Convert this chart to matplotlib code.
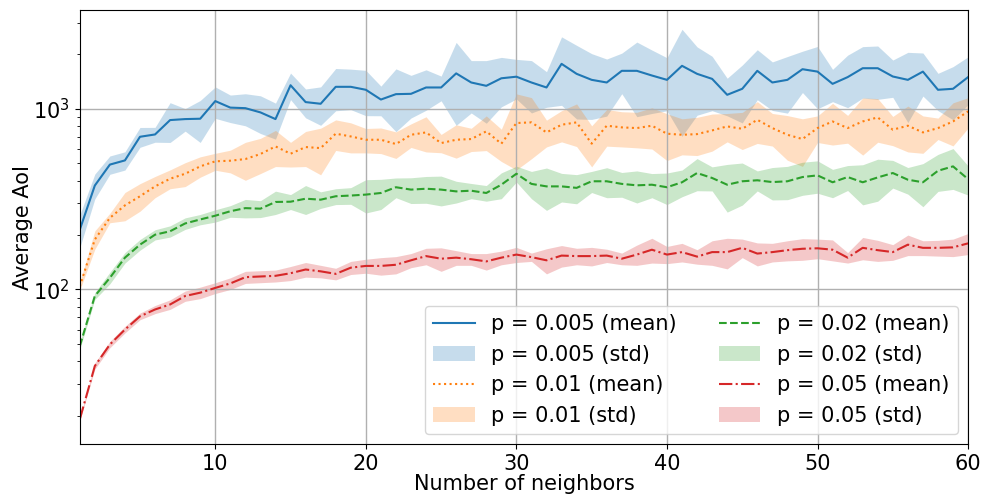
import numpy as np
import matplotlib.pyplot as plt

## Average AoI vs number of neighbors, mean +/- std for four values of p

neighbors = np.arange(1, 61)

mean_p005 = [214, 376, 491, 518, 700, 721, 866, 877, 881, 1103,
             1015, 1008, 955, 877, 1350, 1089, 1066, 1323, 1323, 1274,
             1125, 1205, 1210, 1312, 1312, 1570, 1398, 1340, 1475, 1505,
             1398, 1312, 1773, 1561, 1446, 1398, 1622, 1622, 1528, 1446,
             1729, 1561, 1464, 1195, 1290, 1622, 1398, 1446, 1656, 1606,
             1374, 1497, 1677, 1677, 1509, 1446, 1606, 1274, 1290, 1497]
std_p005 = [44, 59, 57, 60, 88, 68, 215, 125, 230, 218,
            176, 203, 225, 198, 226, 198, 256, 348, 334, 358,
            210, 458, 321, 331, 205, 760, 450, 508, 450, 372,
            450, 293, 728, 683, 573, 487, 410, 718, 586, 471,
            1025, 640, 488, 281, 455, 500, 419, 500, 426, 606,
            279, 483, 531, 549, 352, 607, 430, 297, 421, 442]

mean_p01 = [104, 189, 249, 292, 328, 372, 410, 437, 480, 512,
            516, 527, 562, 619, 564, 614, 606, 728, 703, 674,
            674, 638, 718, 740, 646, 674, 680, 750, 641, 834,
            841, 740, 816, 841, 641, 806, 789, 782, 806, 728,
            718, 724, 759, 799, 775, 869, 782, 718, 680, 782,
            851, 782, 851, 896, 766, 806, 740, 782, 851, 967]
std_p01 = [5, 22, 15, 52, 57, 50, 49, 66, 62, 55,
           74, 125, 124, 140, 88, 135, 175, 140, 133, 104,
           109, 107, 107, 163, 75, 141, 100, 163, 130, 375,
           312, 125, 160, 223, 164, 185, 174, 174, 207, 211,
           162, 173, 176, 143, 180, 226, 160, 199, 200, 131,
           221, 137, 297, 243, 141, 229, 173, 106, 228, 185]

mean_p02 = [48.6, 92, 116, 150, 177, 201, 210, 232, 244, 256,
            271, 282, 280, 305, 306, 318, 314, 328, 331, 335,
            342, 368, 357, 361, 357, 349, 352, 342, 380, 437,
            384, 372, 372, 365, 397, 397, 384, 377, 380, 368,
            392, 441, 414, 380, 397, 402, 393, 397, 419, 428,
            392, 419, 392, 417, 441, 405, 392, 454, 480, 408]
std_p02 = [2, 4, 8.5, 10, 12, 13, 15, 17, 16, 20,
           20, 33, 30, 45, 29, 58, 33, 33, 35, 70,
           65, 46, 58, 61, 67, 48, 34, 34, 62, 44,
           66, 98, 67, 67, 53, 75, 60, 76, 58, 73,
           66, 89, 63, 112, 104, 51, 80, 83, 87, 87,
           70, 66, 98, 109, 77, 68, 105, 105, 122, 75]

mean_p05 = [19.1, 37.7, 49.6, 60, 71, 77.5, 82.6, 92, 96, 102,
            108, 117, 118, 119, 123, 129, 126, 122, 132, 135,
            135, 137, 145, 153, 148, 150, 147, 143, 150, 156,
            151, 145, 154, 153, 153, 154, 148, 156, 166, 156,
            161, 152, 161, 161, 170, 158, 161, 165, 168, 169,
            166, 150, 170, 165, 161, 177, 170, 170, 171, 180]
std_p05 = [0.3, 1.5, 2, 2.5, 3, 4, 5, 6, 7, 7,
           8, 9, 9, 9, 11, 12, 10, 9, 11, 12,
           15, 15, 13, 16, 22, 14, 11, 15, 13, 15,
           8, 23, 21, 16, 18, 13, 11, 20, 26, 17,
           19, 14, 25, 31, 20, 23, 19, 21, 23, 21,
           22, 10, 24, 22, 16, 23, 16, 17, 19, 24]

p_labels = ['0.005', '0.01', '0.02', '0.05']
means = [mean_p005, mean_p01, mean_p02, mean_p05]
stds = [std_p005, std_p01, std_p02, std_p05]
colors = ['tab:blue', 'tab:orange', 'tab:green', 'tab:red']
styles = ['-', ':', '--', '-.']

fig, ax = plt.subplots(figsize=(9.97, 4.97), dpi=100)

for p, m, s, c, ls in zip(p_labels, means, stds, colors, styles):
    m = np.array(m)
    s = np.array(s)
    ax.plot(neighbors, m, color=c, linestyle=ls, linewidth=1.5,
            label='p = ' + p + ' (mean)')
    ax.fill_between(neighbors, m - s, m + s, color=c, alpha=0.25,
                    linewidth=0, label='p = ' + p + ' (std)')

ax.set_yscale('log')
ax.set_xlim(1, 60)
ax.set_ylim(13.9, 3524)
ax.set_xticks([10, 20, 30, 40, 50, 60])
ax.grid(True, which='major', color='#b0b0b0', linewidth=1)
ax.tick_params(labelsize=15)
ax.set_xlabel('Number of neighbors', fontsize=15, labelpad=0)
ax.set_ylabel('Average AoI', fontsize=15, labelpad=0)
ax.legend(loc='lower right', ncol=2, fontsize=15)

fig.subplots_adjust(left=0.080, right=0.971, top=0.980, bottom=0.106)
fig.savefig('out.png', dpi=100)
